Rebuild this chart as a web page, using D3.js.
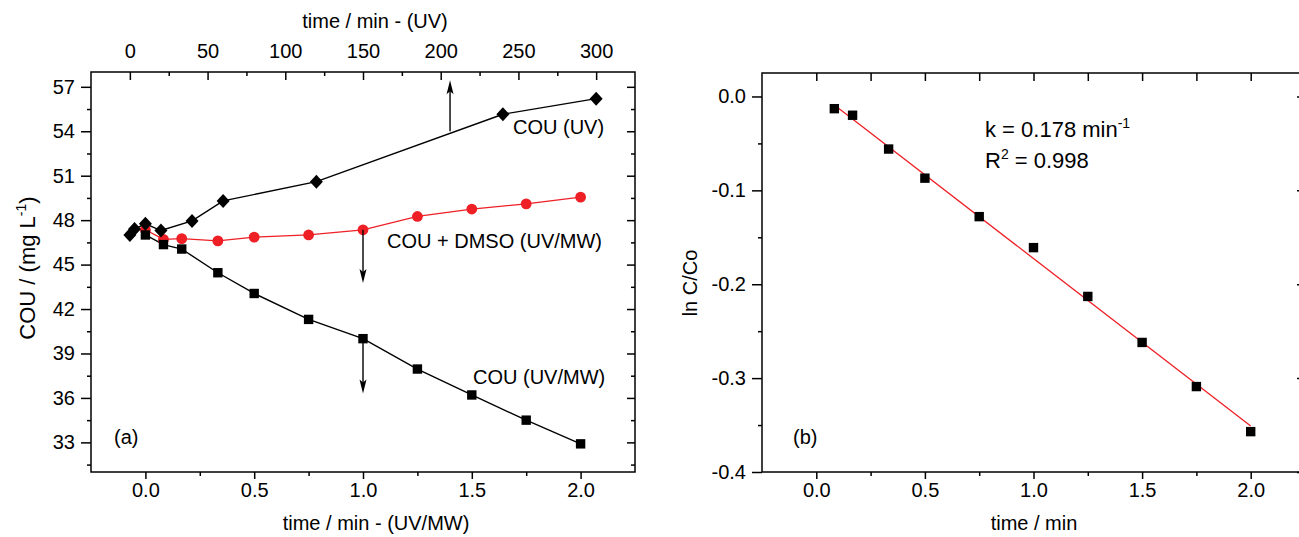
<!DOCTYPE html>
<html>
<head>
<meta charset="utf-8">
<script src="https://cdn.jsdelivr.net/npm/d3@7"></script>
<style>
body { margin: 0; background: #fff; }
svg text { font-family: "Liberation Sans", Arial, sans-serif; fill: #000; }
</style>
</head>
<body>
<svg id="chart" width="1299" height="537"></svg>
<script>
// panel (a), bottom axis: time / min - (UV/MW)
var uvmwTime = [0, 0.083, 0.167, 0.333, 0.5, 0.75, 1.0, 1.25, 1.5, 1.75, 2.0];
var couUvmw  = [47.0, 46.35, 46.05, 44.45, 43.05, 41.3, 40.0, 37.95, 36.2, 34.5, 32.9];
var couDmso  = [47.35, 46.7, 46.75, 46.6, 46.85, 47.0, 47.35, 48.25, 48.75, 49.1, 49.55];
// panel (a), top axis: time / min - (UV)
var uvTime = [0, 3, 10, 20, 40, 60, 120, 240, 300];
var couUv  = [47.0, 47.4, 47.75, 47.3, 47.95, 49.3, 50.6, 55.15, 56.2];
// panel (b)
var lnTime  = [0.083, 0.167, 0.333, 0.5, 0.75, 1.0, 1.25, 1.5, 1.75, 2.0];
var lnRatio = [-0.013, -0.020, -0.056, -0.087, -0.128, -0.161, -0.213, -0.262, -0.309, -0.357];
var fitTime  = [0.083, 2.0];
var fitRatio = [-0.009, -0.351];

// tick labels
var concTicks = [33, 36, 39, 42, 45, 48, 51, 54, 57];
var concMinor = [31.5, 34.5, 37.5, 40.5, 43.5, 46.5, 49.5, 52.5, 55.5];
var minTicks  = [0, 0.5, 1.0, 1.5, 2.0];
var minMinor  = [0.25, 0.75, 1.25, 1.75];
var uvTicks   = [0, 50, 100, 150, 200, 250, 300];
var uvMinor   = [25, 75, 125, 175, 225, 275];
var lnTicks   = [0, -0.1, -0.2, -0.3, -0.4];
var lnMinor   = [-0.05, -0.15, -0.25, -0.35];

var red = "#ee1f25";
var fs = 20;
var svg = d3.select("#chart");

// scales
var xa = d3.scaleLinear().domain([-0.25, 2.25]).range([91, 635]);
var xaTop = d3.scaleLinear().domain([-25, 325]).range([91, 635]);
var ya = d3.scaleLinear().domain([31, 58]).range([472, 72]);
var xb = d3.scaleLinear().domain([-0.25, 2.25]).range([762, 1305]);
var yb = d3.scaleLinear().domain([-0.4, 0.025]).range([472, 73]);

function fix1(d) { return d.toFixed(1); }

function addAxis(axisFn, scale, tx, ty, values, size, fmt, pad) {
    var ax = axisFn(scale)
        .tickValues(values)
        .tickSize(size)
        .tickSizeOuter(0)
        .tickPadding(pad || 4)
        .tickFormat(fmt || function() { return ""; });
    var g = svg.append("g")
        .attr("transform", "translate(" + tx + "," + ty + ")")
        .call(ax);
    g.select(".domain").remove();
    g.selectAll("line").attr("stroke", "#000").attr("stroke-width", 1.5);
    g.selectAll("text").attr("font-size", fs).attr("fill", "#000");
    return g;
}

function frame(x, y) {
    svg.append("rect")
        .attr("x", x.range()[0]).attr("y", y.range()[1])
        .attr("width", x.range()[1] - x.range()[0])
        .attr("height", y.range()[0] - y.range()[1])
        .attr("fill", "none").attr("stroke", "#000").attr("stroke-width", 1.5);
}

// ---------- panel (a) axes ----------
addAxis(d3.axisBottom, xa, 0, 472, minTicks, 7, fix1, 4);
addAxis(d3.axisBottom, xa, 0, 472, minMinor, 4);
addAxis(d3.axisTop, xaTop, 0, 72, uvTicks, -8, d3.format("d"), 14);
addAxis(d3.axisTop, xaTop, 0, 72, uvMinor, -4);
addAxis(d3.axisLeft, ya, 91, 0, concTicks, 10, d3.format("d"), 6);
addAxis(d3.axisLeft, ya, 91, 0, concMinor, 4);
addAxis(d3.axisRight, ya, 635, 0, concTicks, -8);
addAxis(d3.axisRight, ya, 635, 0, concMinor, -4);
frame(xa, ya);

// ---------- panel (b) axes ----------
addAxis(d3.axisBottom, xb, 0, 472, minTicks, 7, fix1, 4);
addAxis(d3.axisBottom, xb, 0, 472, minMinor, 4);
addAxis(d3.axisTop, xb, 0, 73, minTicks, -8);
addAxis(d3.axisTop, xb, 0, 73, minMinor, -8);
addAxis(d3.axisLeft, yb, 762, 0, lnTicks, 10, fix1, 6);
addAxis(d3.axisLeft, yb, 762, 0, lnMinor, 4);
addAxis(d3.axisRight, yb, 1305, 0, lnTicks, -8);
addAxis(d3.axisRight, yb, 1305, 0, lnMinor, -4);
frame(xb, yb);

// ---------- panel (a) series ----------
var lineUvmw = d3.line().x(function(d, i) { return xa(uvmwTime[i]); }).y(function(d) { return ya(d); });
var lineUv = d3.line().x(function(d, i) { return xaTop(uvTime[i]); }).y(function(d) { return ya(d); });

svg.append("path").datum(couDmso).attr("d", lineUvmw)
    .attr("fill", "none").attr("stroke", red).attr("stroke-width", 1.3);
svg.append("path").datum(couUvmw).attr("d", lineUvmw)
    .attr("fill", "none").attr("stroke", "#000").attr("stroke-width", 1.4);
svg.append("path").datum(couUv).attr("d", lineUv)
    .attr("fill", "none").attr("stroke", "#000").attr("stroke-width", 1.4);

svg.selectAll(".dmso").data(couDmso).enter().append("circle")
    .attr("cx", function(d, i) { return xa(uvmwTime[i]); })
    .attr("cy", function(d) { return ya(d); })
    .attr("r", 5.4).attr("fill", red);

svg.selectAll(".uvmw").data(couUvmw).enter().append("rect")
    .attr("x", function(d, i) { return xa(uvmwTime[i]) - 4.7; })
    .attr("y", function(d) { return ya(d) - 4.7; })
    .attr("width", 9.4).attr("height", 9.4).attr("fill", "#000");

svg.selectAll(".uv").data(couUv).enter().append("path")
    .attr("transform", function(d, i) { return "translate(" + xaTop(uvTime[i]) + "," + ya(d) + ")"; })
    .attr("d", "M0,-7L6.5,0L0,7L-6.5,0Z").attr("fill", "#000");

// arrows
function arrow(x, y1, y2) {
    var dir = y2 < y1 ? 1 : -1;
    svg.append("line").attr("x1", x).attr("x2", x)
        .attr("y1", y1).attr("y2", y2 + dir * 10)
        .attr("stroke", "#000").attr("stroke-width", 1.4);
    svg.append("path")
        .attr("d", "M" + x + "," + y2 + "L" + (x + 3.5) + "," + (y2 + dir * 14) +
            "L" + x + "," + (y2 + dir * 11) + "L" + (x - 3.5) + "," + (y2 + dir * 14) + "Z")
        .attr("fill", "#000");
}
arrow(xa(1.4), ya(54.0), ya(57.45));
arrow(xa(1.0), ya(47.35), ya(43.75));
arrow(xa(1.0), ya(40.0), ya(36.3));

// ---------- panel (b) series ----------
var fitLine = d3.line().x(function(d, i) { return xb(fitTime[i]); }).y(function(d) { return yb(d); });
svg.append("path").datum(fitRatio).attr("d", fitLine)
    .attr("fill", "none").attr("stroke", red).attr("stroke-width", 1.3);

svg.selectAll(".ln").data(lnRatio).enter().append("rect")
    .attr("x", function(d, i) { return xb(lnTime[i]) - 4.7; })
    .attr("y", function(d) { return yb(d) - 4.7; })
    .attr("width", 9.4).attr("height", 9.4).attr("fill", "#000");

// ---------- labels ----------
function label(x, y, str, anchor, size) {
    return svg.append("text").attr("x", x).attr("y", y)
        .attr("font-size", size || fs).attr("text-anchor", anchor || "start").text(str);
}

label(376, 530, "time / min - (UV/MW)", "middle");
label(375, 28, "time / min - (UV)", "middle");
label(1034, 530, "time / min", "middle");

var yl = svg.append("text")
    .attr("transform", "translate(35,268) rotate(-90)")
    .attr("font-size", 22).attr("text-anchor", "middle");
yl.append("tspan").text("COU / (mg L");
yl.append("tspan").attr("dy", -9).attr("font-size", 14).text("-1");
yl.append("tspan").attr("dy", 9).text(")");

svg.append("text")
    .attr("transform", "translate(697,283) rotate(-90)")
    .attr("font-size", fs).attr("text-anchor", "middle").text("ln C/Co");

label(513, 134, "COU (UV)");
label(387, 248, "COU + DMSO (UV/MW)");
label(473, 384, "COU (UV/MW)");
label(114, 444, "(a)");
label(793, 444, "(b)");

var k = label(985, 137, "k = 0.178 min", "start", 22);
k.append("tspan").attr("dy", -9).attr("font-size", 14).text("-1");
var r2 = label(985, 168, "R", "start", 22);
r2.append("tspan").attr("dy", -9).attr("font-size", 14).text("2");
r2.append("tspan").attr("dy", 9).text(" = 0.998");
</script>
</body>
</html>
